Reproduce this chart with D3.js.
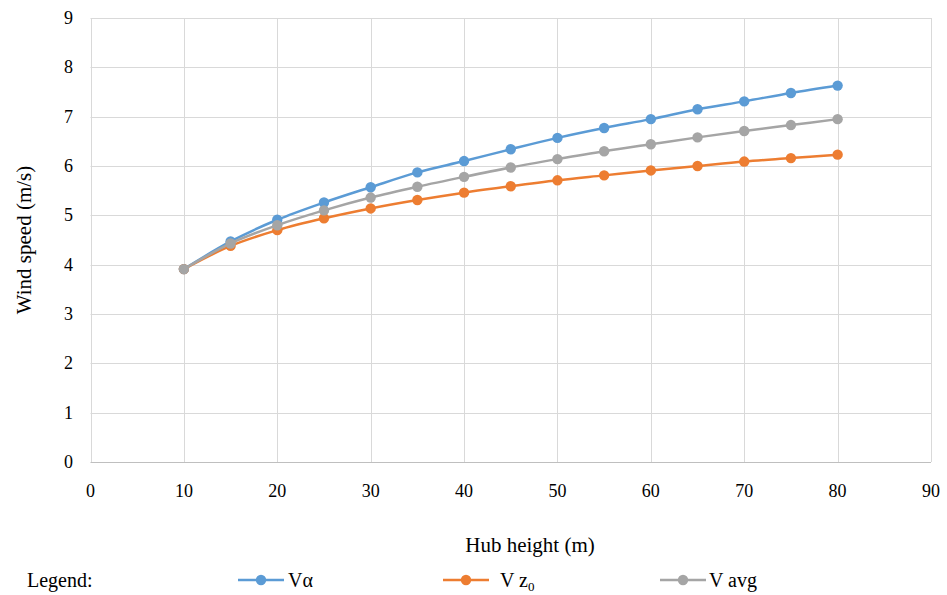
<!DOCTYPE html>
<html><head><meta charset="utf-8">
<script src="https://cdn.jsdelivr.net/npm/d3@7"></script>
<style>body{margin:0;background:#fff}svg{display:block}</style>
</head><body><svg id="c" width="947" height="595"></svg>
<script>
const heights = [10,15,20,25,30,35,40,45,50,55,60,65,70,75,80];
const vAlpha = [3.91,4.47,4.91,5.26,5.57,5.87,6.10,6.34,6.57,6.77,6.95,7.15,7.31,7.48,7.63];
const vZ0    = [3.91,4.38,4.70,4.94,5.14,5.31,5.46,5.59,5.71,5.81,5.91,6.00,6.09,6.16,6.23];
const vAvg   = [3.91,4.43,4.80,5.10,5.36,5.58,5.78,5.97,6.14,6.30,6.44,6.58,6.71,6.83,6.95];
const xTicks = [0,10,20,30,40,50,60,70,80,90];
const yTicks = [0,1,2,3,4,5,6,7,8,9];
const colors = ["#5B9BD5","#ED7D31","#A5A5A5"];

const FONT = "'Liberation Serif', 'Times New Roman', serif";
const svg = d3.select("#c");
const x = d3.scaleLinear().domain([0,90]).range([90.5,931]);
const y = d3.scaleLinear().domain([0,9]).range([462,18]);

const g = svg.append("g");
g.selectAll(".hg").data(yTicks).join("line")
  .attr("x1",x(0)).attr("x2",x(90)).attr("y1",d=>Math.round(y(d))+0.5).attr("y2",d=>Math.round(y(d))+0.5)
  .attr("stroke",d=>d===0?"#bfbfbf":"#d9d9d9").attr("stroke-width",1);
g.selectAll(".vg").data(xTicks).join("line")
  .attr("y1",y(0)).attr("y2",y(9)).attr("x1",d=>Math.round(x(d))+0.5).attr("x2",d=>Math.round(x(d))+0.5)
  .attr("stroke","#d9d9d9").attr("stroke-width",1);

function txt(sel){ return sel.attr("font-family",FONT).style("font-family",FONT,"important").attr("fill","#000"); }

txt(g.selectAll(".yl").data(yTicks).join("text"))
  .attr("x",73).attr("y",d=>y(d)+6).attr("text-anchor","end").attr("font-size",18).text(d=>d);
txt(g.selectAll(".xl").data(xTicks).join("text"))
  .attr("x",d=>x(d)).attr("y",497).attr("text-anchor","middle").attr("font-size",18).text(d=>d);

txt(svg.append("text")).attr("x",530).attr("y",552).attr("text-anchor","middle").attr("font-size",21).text("Hub height (m)");
txt(svg.append("text")).attr("transform","translate(31,240) rotate(-90)").attr("text-anchor","middle").attr("font-size",21).text("Wind speed (m/s)");

const allSeries = [vAlpha,vZ0,vAvg];
const line = d3.line().x((d,i)=>x(heights[i])).y(d=>y(d)).curve(d3.curveCardinal.tension(0));
allSeries.forEach((vals,si)=>{
  const sg = svg.append("g");
  sg.append("path").attr("d",line(vals)).attr("fill","none").attr("stroke",colors[si]).attr("stroke-width",2.5);
  sg.selectAll("circle").data(vals).join("circle")
    .attr("cx",(d,i)=>x(heights[i])).attr("cy",d=>y(d)).attr("r",5.2).attr("fill",colors[si]);
});

txt(svg.append("text")).attr("x",27).attr("y",587).attr("font-size",20).text("Legend:");
const legX = [238,443,660];
legX.forEach((lx,i)=>{
  svg.append("line").attr("x1",lx).attr("x2",lx+46).attr("y1",580).attr("y2",580).attr("stroke",colors[i]).attr("stroke-width",2.5);
  svg.append("circle").attr("cx",lx+23).attr("cy",580).attr("r",5.2).attr("fill",colors[i]);
});
txt(svg.append("text")).attr("x",288).attr("y",587).attr("font-size",20).text("V\u03B1");
const t2 = txt(svg.append("text")).attr("x",500).attr("y",587).attr("font-size",20);
t2.append("tspan").text("V z");
t2.append("tspan").attr("font-size",13).attr("dy",4).text("0");
txt(svg.append("text")).attr("x",709).attr("y",587).attr("font-size",20).text("V avg");
</script></body></html>
